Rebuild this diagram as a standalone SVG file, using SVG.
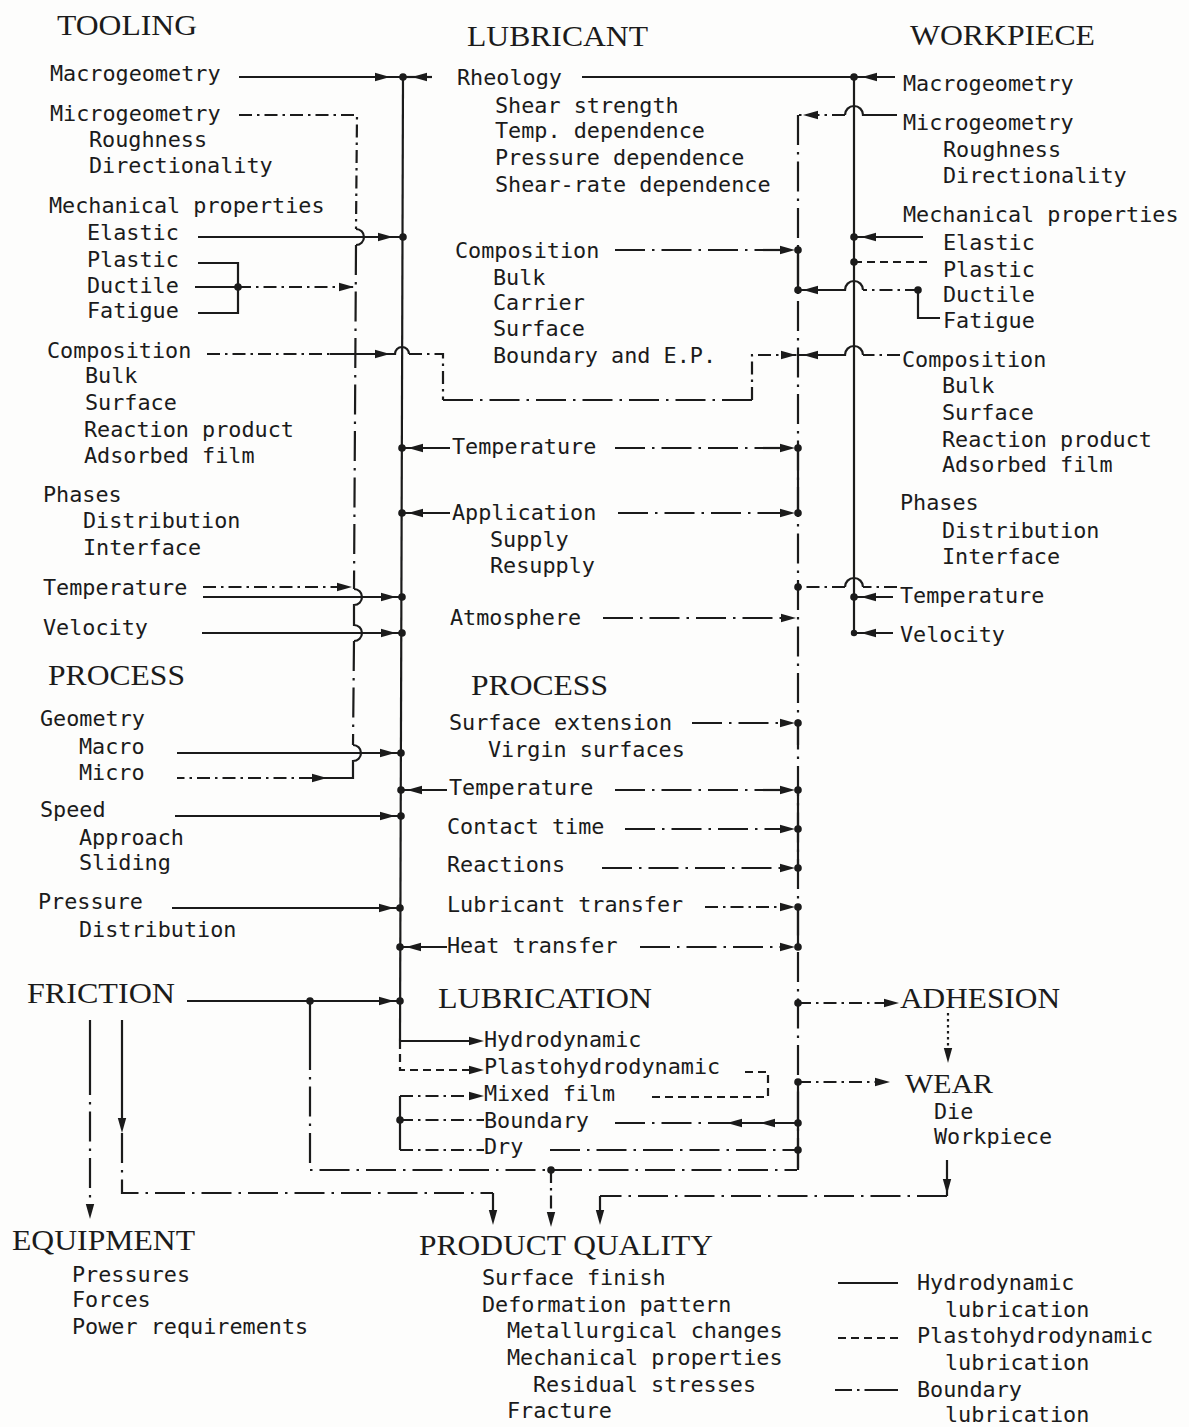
<svg xmlns="http://www.w3.org/2000/svg" width="1189" height="1427" viewBox="0 0 1189 1427">
<style>
.t{font-family:"DejaVu Sans Mono","Liberation Mono",monospace;font-size:21.8px;fill:#1b1b1b}
.h{font-family:"Liberation Serif","Times New Roman",serif;font-size:30px;fill:#1b1b1b}
.s{stroke:#1b1b1b;stroke-width:2.2;fill:none}
.dd{stroke-dasharray:30 7 2.5 7}
.dd2{stroke-dasharray:13 5 2.5 5}
.ds{stroke-dasharray:8 5}
.dt{stroke-dasharray:2.5 3.5}
.dot{fill:#1b1b1b}
.ah{fill:#1b1b1b}
</style>
<defs>
<path id="ar" d="M0 0 L-15 -4.2 L-15 4.2 Z"/>
</defs>
<rect width="1189" height="1427" fill="#fdfdfc"/>

<g id="connectors">
<!-- tooling main vertical -->
<path class="s" d="M403 77 L400 1041"/>
<!-- V1 dash-dot collector -->
<path class="s dd2" d="M239 115 L357 115 L356 229"/>
<path class="s" d="M356 229 a8 8 0 0 1 0 16"/>
<path class="s dd" d="M356 245 L354 589"/>
<path class="s" d="M354 589 a8 8 0 0 1 0 16 L354 625 a8 8 0 0 1 0 16"/>
<path class="s dd" d="M354 641 L353 745"/>
<path class="s" d="M353 745 a8 8 0 0 1 0 16 L353 778 L312 778"/>
<path class="s dd2" d="M312 778 L177 778"/>
<use href="#ar" class="ah" transform="translate(327 778)"/>
<!-- Macrogeometry / Rheology -->
<path class="s" d="M239 77 L403 77"/>
<use href="#ar" class="ah" transform="translate(390 77)"/>
<path class="s" d="M403 77 L432 77"/>
<use href="#ar" class="ah" transform="translate(412 77) rotate(180)"/>
<path class="s" d="M582 77 L854 77"/>
<path class="s" d="M895 77 L854 77"/>
<use href="#ar" class="ah" transform="translate(862 77) rotate(180)"/>
<!-- Elastic tooling -->
<path class="s" d="M198 237 L403 237"/>
<use href="#ar" class="ah" transform="translate(393 237)"/>
<!-- Plastic/Ductile/Fatigue bracket -->
<path class="s" d="M198 263 L238 263 L238 313 L198 313 M195 287 L238 287"/>
<path class="s dd2" d="M238 287 L354 287"/>
<use href="#ar" class="ah" transform="translate(354 287)"/>
<!-- Composition tooling detour -->
<path class="s dd2" d="M207 354 L330 354"/>
<path class="s" d="M330 354 L395 354 a7 7 0 0 1 14 0"/>
<use href="#ar" class="ah" transform="translate(390 354)"/>
<path class="s dd2" d="M409 354 L443 354 L443 400"/>
<path class="s dd" d="M443 400 L752 400"/>
<path class="s dd2" d="M752 400 L752 355 L797 355"/>
<use href="#ar" class="ah" transform="translate(796 355)"/>
<!-- Temperature / Velocity tooling -->
<path class="s dd2" d="M203 587 L345 587"/>
<use href="#ar" class="ah" transform="translate(352 587)"/>
<path class="s" d="M203 597 L402 597"/>
<use href="#ar" class="ah" transform="translate(396 597)"/>
<path class="s" d="M202 633 L402 633"/>
<use href="#ar" class="ah" transform="translate(396 633)"/>
<!-- Process tooling -->
<path class="s" d="M177 753 L401 753"/>
<use href="#ar" class="ah" transform="translate(395 753)"/>
<path class="s" d="M175 816 L401 816"/>
<use href="#ar" class="ah" transform="translate(395 816)"/>
<path class="s" d="M172 908 L400 908"/>
<use href="#ar" class="ah" transform="translate(394 908)"/>
<!-- FRICTION -->
<path class="s" d="M187 1001 L400 1001"/>
<use href="#ar" class="ah" transform="translate(394 1001)"/>
<path class="s" d="M310 1001 L310 1040"/>
<path class="s dd" d="M310 1040 L310 1170 L797 1170"/>
<!-- lubricant left arrows -->
<path class="s" d="M450 448 L402 448"/>
<use href="#ar" class="ah" transform="translate(408 448) rotate(180)"/>
<path class="s" d="M450 513 L402 513"/>
<use href="#ar" class="ah" transform="translate(408 513) rotate(180)"/>
<path class="s" d="M447 790 L401 790"/>
<use href="#ar" class="ah" transform="translate(407 790) rotate(180)"/>
<path class="s" d="M447 947 L400 947"/>
<use href="#ar" class="ah" transform="translate(406 947) rotate(180)"/>
<!-- V2 right lubricant vertical -->
<path class="s dd" d="M798 115 L798 1170"/>
<path class="s" d="M798 250 L798 290 M798 448 L798 513 M798 723 L798 745 M798 790 L798 868 M798 907 L798 947 M798 1082 L798 1170"/>
<!-- lubricant right arrows -->
<path class="s dd" d="M615 250 L790 250"/>
<use href="#ar" class="ah" transform="translate(795 250)"/>
<path class="s dd" d="M615 448 L790 448"/>
<use href="#ar" class="ah" transform="translate(795 448)"/>
<path class="s dd" d="M618 513 L790 513"/>
<use href="#ar" class="ah" transform="translate(795 513)"/>
<path class="s dd" d="M603 618 L790 618"/>
<use href="#ar" class="ah" transform="translate(796 618)"/>
<path class="s dd" d="M692 723 L790 723"/>
<use href="#ar" class="ah" transform="translate(795 723)"/>
<path class="s dd" d="M615 790 L790 790"/>
<use href="#ar" class="ah" transform="translate(795 790)"/>
<path class="s dd" d="M625 829 L790 829"/>
<use href="#ar" class="ah" transform="translate(795 829)"/>
<path class="s dd" d="M602 868 L790 868"/>
<use href="#ar" class="ah" transform="translate(795 868)"/>
<path class="s dd2" d="M705 907 L790 907"/>
<use href="#ar" class="ah" transform="translate(795 907)"/>
<path class="s dd" d="M640 947 L790 947"/>
<use href="#ar" class="ah" transform="translate(795 947)"/>
<!-- ADHESION / WEAR -->
<path class="s dd2" d="M798 1003 L890 1003"/>
<use href="#ar" class="ah" transform="translate(899 1003)"/>
<path class="s dd2" d="M798 1082 L882 1082"/>
<use href="#ar" class="ah" transform="translate(890 1082)"/>
<path class="s dt" d="M948 1013 L948 1052"/>
<use href="#ar" class="ah" transform="translate(948 1063) rotate(90)"/>
<!-- workpiece vertical -->
<path class="s" d="M854 77 L854 633"/>
<path class="s" d="M897 115 L863 115 a9 9 0 0 0 -18 0"/>
<path class="s dd2" d="M845 115 L798 115"/>
<use href="#ar" class="ah" transform="translate(803 115) rotate(180)"/>
<path class="s" d="M923 237 L854 237"/>
<use href="#ar" class="ah" transform="translate(861 237) rotate(180)"/>
<path class="s ds" d="M927 262 L854 262"/>
<path class="s" d="M918 290 L918 318 L940 318"/>
<path class="s dd2" d="M918 290 L863 290"/>
<path class="s" d="M863 290 a9 9 0 0 0 -18 0 L798 290"/>
<use href="#ar" class="ah" transform="translate(803 290) rotate(180)"/>
<path class="s dd2" d="M900 355 L863 355"/>
<path class="s" d="M863 355 a9 9 0 0 0 -18 0 L798 355"/>
<use href="#ar" class="ah" transform="translate(803 355) rotate(180)"/>
<path class="s dd2" d="M897 587 L863 587"/>
<path class="s" d="M863 587 a9 9 0 0 0 -18 0"/>
<path class="s dd2" d="M845 587 L798 587"/>
<path class="s" d="M893 597 L854 597"/>
<use href="#ar" class="ah" transform="translate(861 597) rotate(180)"/>
<path class="s" d="M893 633 L854 633"/>
<use href="#ar" class="ah" transform="translate(861 633) rotate(180)"/>
<!-- lubrication modes -->
<path class="s" d="M400 1041 L470 1041"/>
<use href="#ar" class="ah" transform="translate(484 1041)"/>
<path class="s ds" d="M400 1041 L400 1070 L470 1070"/>
<use href="#ar" class="ah" transform="translate(484 1070)"/>
<path class="s ds" d="M745 1072 L768 1072 L768 1097 L648 1097"/>
<path class="s" d="M400 1096 L400 1150"/>
<path class="s dd2" d="M400 1096 L470 1096"/>
<use href="#ar" class="ah" transform="translate(484 1096)"/>
<path class="s dd2" d="M400 1120 L484 1120"/>
<path class="s dd2" d="M400 1150 L484 1150"/>
<path class="s dd" d="M615 1123 L727 1123"/>
<path class="s" d="M727 1123 L798 1123"/>
<use href="#ar" class="ah" transform="translate(727 1123) rotate(180)"/>
<use href="#ar" class="ah" transform="translate(760 1123) rotate(180)"/>
<path class="s dd" d="M550 1150 L798 1150"/>
<!-- bottom flows -->
<path class="s" d="M90 1020 L90 1065"/>
<path class="s dd" d="M90 1065 L90 1205"/>
<use href="#ar" class="ah" transform="translate(90 1219) rotate(90)"/>
<path class="s" d="M122 1020 L122 1120"/>
<use href="#ar" class="ah" transform="translate(122 1133) rotate(90)"/>
<path class="s dd" d="M122 1133 L122 1193 L493 1193"/>
<path class="s" d="M493 1193 L493 1212"/>
<use href="#ar" class="ah" transform="translate(493 1225) rotate(90)"/>
<path class="s dd2" d="M551 1170 L551 1212"/>
<use href="#ar" class="ah" transform="translate(551 1227) rotate(90)"/>
<path class="s" d="M947 1160 L947 1196"/>
<use href="#ar" class="ah" transform="translate(947 1194) rotate(90)"/>
<path class="s dd" d="M947 1196 L600 1196"/>
<path class="s" d="M600 1196 L600 1212"/>
<use href="#ar" class="ah" transform="translate(600 1225) rotate(90)"/>
<!-- junction dots -->
<g class="dot">
<circle cx="403" cy="77" r="3.8"/><circle cx="403" cy="237" r="3.8"/><circle cx="238" cy="287" r="3.8"/>
<circle cx="402" cy="448" r="3.8"/><circle cx="402" cy="513" r="3.8"/><circle cx="402" cy="597" r="3.8"/>
<circle cx="402" cy="633" r="3.8"/><circle cx="401" cy="753" r="3.8"/><circle cx="401" cy="790" r="3.8"/>
<circle cx="401" cy="816" r="3.8"/><circle cx="400" cy="908" r="3.8"/><circle cx="400" cy="947" r="3.8"/>
<circle cx="400" cy="1001" r="3.8"/><circle cx="310" cy="1001" r="3.8"/><circle cx="400" cy="1120" r="3.8"/>
<circle cx="551" cy="1170" r="3.8"/>
<circle cx="854" cy="77" r="3.8"/><circle cx="854" cy="237" r="3.8"/><circle cx="854" cy="262" r="3.8"/>
<circle cx="854" cy="597" r="3.8"/><circle cx="854" cy="633" r="3.2"/><circle cx="918" cy="290" r="3.8"/>
<circle cx="798" cy="250" r="3.8"/><circle cx="798" cy="290" r="3.8"/><circle cx="798" cy="448" r="3.8"/>
<circle cx="798" cy="513" r="3.8"/><circle cx="798" cy="587" r="3.8"/><circle cx="798" cy="723" r="3.8"/>
<circle cx="798" cy="790" r="3.8"/><circle cx="798" cy="829" r="3.8"/><circle cx="798" cy="868" r="3.8"/>
<circle cx="798" cy="907" r="3.8"/><circle cx="798" cy="947" r="3.8"/><circle cx="798" cy="1003" r="3.8"/>
<circle cx="798" cy="1082" r="3.8"/><circle cx="798" cy="1123" r="3.8"/><circle cx="798" cy="1150" r="3.8"/>
</g>
</g>

<g id="tooling">
<text class="h" x="57" y="35" textLength="140" lengthAdjust="spacingAndGlyphs">TOOLING</text>
<text class="t" x="50" y="81">Macrogeometry</text>
<text class="t" x="50" y="121">Microgeometry</text>
<text class="t" x="89" y="147">Roughness</text>
<text class="t" x="89" y="173">Directionality</text>
<text class="t" x="49" y="213">Mechanical properties</text>
<text class="t" x="87" y="240">Elastic</text>
<text class="t" x="87" y="267">Plastic</text>
<text class="t" x="87" y="293">Ductile</text>
<text class="t" x="87" y="318">Fatigue</text>
<text class="t" x="47" y="358">Composition</text>
<text class="t" x="85" y="383">Bulk</text>
<text class="t" x="85" y="410">Surface</text>
<text class="t" x="84" y="437">Reaction product</text>
<text class="t" x="84" y="463">Adsorbed film</text>
<text class="t" x="43" y="502">Phases</text>
<text class="t" x="83" y="528">Distribution</text>
<text class="t" x="83" y="555">Interface</text>
<text class="t" x="43" y="595">Temperature</text>
<text class="t" x="43" y="635">Velocity</text>
</g>

<g id="process-tooling">
<text class="h" x="48" y="685" textLength="137" lengthAdjust="spacingAndGlyphs">PROCESS</text>
<text class="t" x="40" y="726">Geometry</text>
<text class="t" x="79" y="754">Macro</text>
<text class="t" x="79" y="780">Micro</text>
<text class="t" x="40" y="817">Speed</text>
<text class="t" x="79" y="845">Approach</text>
<text class="t" x="79" y="870">Sliding</text>
<text class="t" x="38" y="909">Pressure</text>
<text class="t" x="79" y="937">Distribution</text>
</g>

<g id="lubricant">
<text class="h" x="467" y="46" textLength="181" lengthAdjust="spacingAndGlyphs">LUBRICANT</text>
<text class="t" x="457" y="85">Rheology</text>
<text class="t" x="495" y="113">Shear strength</text>
<text class="t" x="495" y="138">Temp. dependence</text>
<text class="t" x="495" y="165">Pressure dependence</text>
<text class="t" x="495" y="192">Shear-rate dependence</text>
<text class="t" x="455" y="258">Composition</text>
<text class="t" x="493" y="285">Bulk</text>
<text class="t" x="493" y="310">Carrier</text>
<text class="t" x="493" y="336">Surface</text>
<text class="t" x="493" y="363">Boundary and E.P.</text>
<text class="t" x="452" y="454">Temperature</text>
<text class="t" x="452" y="520">Application</text>
<text class="t" x="490" y="547">Supply</text>
<text class="t" x="490" y="573">Resupply</text>
<text class="t" x="450" y="625">Atmosphere</text>
</g>

<g id="process-lubricant">
<text class="h" x="471" y="695" textLength="137" lengthAdjust="spacingAndGlyphs">PROCESS</text>
<text class="t" x="449" y="730">Surface extension</text>
<text class="t" x="488" y="757">Virgin surfaces</text>
<text class="t" x="449" y="795">Temperature</text>
<text class="t" x="447" y="834">Contact time</text>
<text class="t" x="447" y="872">Reactions</text>
<text class="t" x="447" y="912">Lubricant transfer</text>
<text class="t" x="447" y="953">Heat transfer</text>
</g>

<g id="workpiece">
<text class="h" x="910" y="45" textLength="185" lengthAdjust="spacingAndGlyphs">WORKPIECE</text>
<text class="t" x="903" y="91">Macrogeometry</text>
<text class="t" x="903" y="130">Microgeometry</text>
<text class="t" x="943" y="157">Roughness</text>
<text class="t" x="943" y="183">Directionality</text>
<text class="t" x="903" y="222">Mechanical properties</text>
<text class="t" x="943" y="250">Elastic</text>
<text class="t" x="943" y="277">Plastic</text>
<text class="t" x="943" y="302">Ductile</text>
<text class="t" x="943" y="328">Fatigue</text>
<text class="t" x="902" y="367">Composition</text>
<text class="t" x="942" y="393">Bulk</text>
<text class="t" x="942" y="420">Surface</text>
<text class="t" x="942" y="447">Reaction product</text>
<text class="t" x="942" y="472">Adsorbed film</text>
<text class="t" x="900" y="510">Phases</text>
<text class="t" x="942" y="538">Distribution</text>
<text class="t" x="942" y="564">Interface</text>
<text class="t" x="900" y="603">Temperature</text>
<text class="t" x="900" y="642">Velocity</text>
</g>

<g id="friction">
<text class="h" x="27" y="1003" textLength="148" lengthAdjust="spacingAndGlyphs">FRICTION</text>
</g>

<g id="lubrication">
<text class="h" x="438" y="1008" textLength="214" lengthAdjust="spacingAndGlyphs">LUBRICATION</text>
<text class="t" x="484" y="1047">Hydrodynamic</text>
<text class="t" x="484" y="1074">Plastohydrodynamic</text>
<text class="t" x="484" y="1101">Mixed film</text>
<text class="t" x="484" y="1128">Boundary</text>
<text class="t" x="484" y="1154">Dry</text>
</g>

<g id="adhesion">
<text class="h" x="900" y="1008" textLength="160" lengthAdjust="spacingAndGlyphs">ADHESION</text>
</g>

<g id="wear">
<text class="h" x="905" y="1093" style="font-size:28px" textLength="88" lengthAdjust="spacingAndGlyphs">WEAR</text>
<text class="t" x="934" y="1119">Die</text>
<text class="t" x="934" y="1144">Workpiece</text>
</g>

<g id="equipment">
<text class="h" x="12" y="1250" textLength="183" lengthAdjust="spacingAndGlyphs">EQUIPMENT</text>
<text class="t" x="72" y="1282">Pressures</text>
<text class="t" x="72" y="1307">Forces</text>
<text class="t" x="72" y="1334">Power requirements</text>
</g>

<g id="product-quality">
<text class="h" x="419" y="1255" textLength="294" lengthAdjust="spacingAndGlyphs">PRODUCT QUALITY</text>
<text class="t" x="482" y="1285">Surface finish</text>
<text class="t" x="482" y="1312">Deformation pattern</text>
<text class="t" x="507" y="1338">Metallurgical changes</text>
<text class="t" x="507" y="1365">Mechanical properties</text>
<text class="t" x="533" y="1392">Residual stresses</text>
<text class="t" x="507" y="1418">Fracture</text>
</g>

<g id="legend">
<path class="s" d="M838 1283 L898 1283"/>
<path class="s ds" d="M838 1338 L898 1338"/>
<path class="s" style="stroke-dasharray:17 5 2.5 5 40" d="M835 1390 L898 1390"/>
<text class="t" x="917" y="1290">Hydrodynamic</text>
<text class="t" x="945" y="1317">lubrication</text>
<text class="t" x="917" y="1343">Plastohydrodynamic</text>
<text class="t" x="945" y="1370">lubrication</text>
<text class="t" x="917" y="1397">Boundary</text>
<text class="t" x="945" y="1422">lubrication</text>
</g>
</svg>
